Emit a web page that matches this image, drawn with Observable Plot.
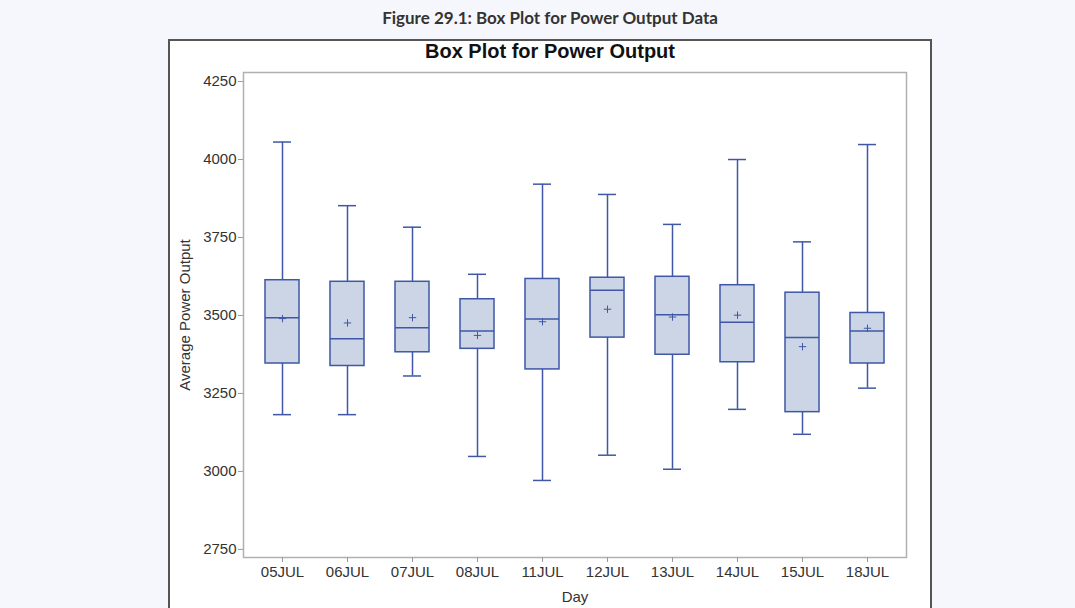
<!DOCTYPE html>
<html>
<head>
<meta charset="utf-8">
<script src="https://cdn.jsdelivr.net/npm/d3@7"></script>
<script src="https://cdn.jsdelivr.net/npm/@observablehq/plot@0.6"></script>
<style>
  html, body { margin: 0; padding: 0; background: #f6f7fc; width: 1075px; height: 608px; overflow: hidden; }
  #fig-title { position: absolute; left: 168px; width: 764px; top: 7px; text-align: center;
    font-family: Lato, "Open Sans", sans-serif; font-weight: 700; font-size: 17px; color: #333; }
  #box { position: absolute; left: 168px; top: 39px; width: 760px; height: 600px;
    border: 2px solid #555; background: #fff; }
  #inner-title { position: absolute; left: 0; width: 760px; top: -1px; text-align: center;
    font-family: "Liberation Sans", Arial, sans-serif; font-weight: 700; font-size: 20px; color: #111; }
  #chart { position: absolute; left: 0; top: 23px; }
</style>
</head>
<body>
<div id="fig-title">Figure 29.1: Box Plot for Power Output Data</div>
<div id="box">
  <div id="inner-title">Box Plot for Power Output</div>
  <div id="chart"></div>
</div>
<script>
const days    = ["05JUL","06JUL","07JUL","08JUL","11JUL","12JUL","13JUL","14JUL","15JUL","18JUL"];
const minVals = [3182, 3182, 3306, 3048, 2971, 3052, 3007, 3199, 3119, 3267];
const q1Vals  = [3346, 3338, 3382, 3393, 3327, 3429, 3374, 3350, 3190, 3346];
const medVals = [3493, 3425, 3461, 3450, 3489, 3581, 3502, 3478, 3429, 3450];
const q3Vals  = [3613, 3608, 3608, 3552, 3617, 3621, 3624, 3597, 3573, 3508];
const maxVals = [4056, 3852, 3783, 3632, 3921, 3888, 3792, 4000, 3736, 4048];
const meanVals= [3490, 3476, 3493, 3436, 3480, 3520, 3495, 3501, 3400, 3459];
const yTicks  = [2750, 3000, 3250, 3500, 3750, 4000, 4250];

const data = days.map((d, i) => ({
  day: d, min: minVals[i], q1: q1Vals[i], med: medVals[i], q3: q3Vals[i], max: maxVals[i], mean: meanVals[i]
}));

const lineColor = "#3f57a6";
const fillColor = "#cbd5e5";

const chart = Plot.plot({
  width: 760,
  height: 560,
  marginLeft: 73,
  marginRight: 24,
  marginTop: 8,
  marginBottom: 67,
  style: { fontFamily: "'Liberation Sans', Arial, sans-serif", fontSize: "15px", color: "#333", background: "transparent" },
  x: { domain: days, type: "band", paddingInner: 0.48, paddingOuter: 0.27 },
  y: { domain: [2724, 4279] },
  marks: [
    Plot.frame({ stroke: "#b0b0b0", strokeWidth: 1.5 }),
    Plot.axisY({ ticks: yTicks, tickFormat: d => String(d), tickSize: 5, tickPadding: 2, stroke: "#999", fill: "#333",
      label: "Average Power Output", labelAnchor: "center", labelArrow: "none", labelOffset: 64, fontSize: 15 }),
    Plot.axisX({ tickSize: 5, tickPadding: 4, stroke: "#999", fill: "#333",
      label: "Day", labelAnchor: "center", labelArrow: "none", labelOffset: 44, fontSize: 15 }),
    Plot.ruleX(data, { x: "day", y1: "min", y2: "max", stroke: lineColor, strokeWidth: 1.5 }),
    Plot.tickY(data, { x: "day", y: "min", stroke: lineColor, strokeWidth: 1.5, insetLeft: 8, insetRight: 8 }),
    Plot.tickY(data, { x: "day", y: "max", stroke: lineColor, strokeWidth: 1.5, insetLeft: 8, insetRight: 8 }),
    Plot.barY(data, { x: "day", y1: "q1", y2: "q3", fill: fillColor, stroke: lineColor, strokeWidth: 1.5 }),
    Plot.tickY(data, { x: "day", y: "med", stroke: lineColor, strokeWidth: 1.5 }),
    Plot.dot(data, { x: "day", y: "mean", symbol: "plus", r: 2.5, stroke: lineColor, strokeWidth: 1 })
  ]
});
document.getElementById("chart").appendChild(chart);
</script>
</body>
</html>
